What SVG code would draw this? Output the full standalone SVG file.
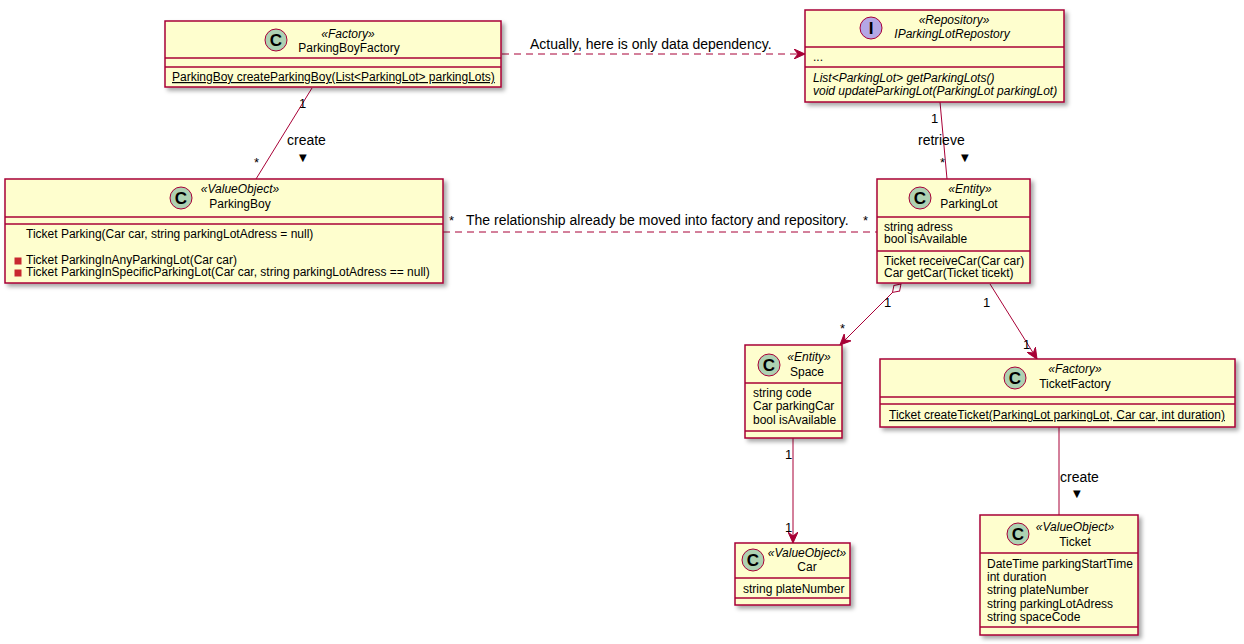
<svg xmlns="http://www.w3.org/2000/svg" width="1244" height="644" viewBox="0 0 1244 644">
  <style>
    .box { fill: #FEFECE; stroke: #A80036; stroke-width: 1.5; filter: url(#shadow); }
    .sep { stroke: #A80036; stroke-width: 1.5; }
    .cls { fill: #ADD1B2; stroke: #A80036; stroke-width: 1; }
    .ifc { fill: #B4A7E5; stroke: #A80036; stroke-width: 1; }
    .glyph { font-family: "Liberation Sans", Arial, sans-serif; font-size: 17px; font-weight: bold; fill: #000; text-anchor: middle; }
    .stereo { font-family: "Liberation Sans", Arial, sans-serif; font-size: 12px; font-style: italic; fill: #000; text-anchor: middle; }
    .name { font-family: "Liberation Sans", Arial, sans-serif; font-size: 12px; fill: #000; text-anchor: middle; }
    .mem { font-family: "Liberation Sans", Arial, sans-serif; font-size: 12px; fill: #000; }
    .ul { text-decoration: underline; }
    .it { font-style: italic; }
    .priv { fill: #C82930; stroke: #C82930; stroke-width: 1; }
    .edge { stroke: #A80036; stroke-width: 1; fill: none; }
    .dash { stroke-dasharray: 7 5; }
    .lbl { font-family: "Liberation Sans", Arial, sans-serif; font-size: 14px; fill: #000; }
    .tri { font-family: "DejaVu Sans", sans-serif; font-size: 10px; fill: #000; }
    .card { font-family: "Liberation Sans", Arial, sans-serif; font-size: 13px; fill: #000; }
  </style>
  <defs>
    <filter id="shadow" x="-10%" y="-10%" width="130%" height="140%">
      <feDropShadow dx="3" dy="3" stdDeviation="2" flood-color="#000" flood-opacity="0.35"/>
    </filter>
    <marker id="arrow" viewBox="0 0 12 10" refX="11" refY="5" markerWidth="12" markerHeight="10" markerUnits="userSpaceOnUse" orient="auto">
      <path d="M0,0 L11,5 L0,10 L4,5 Z" fill="#A80036" stroke="#A80036" stroke-width="1" stroke-dasharray="none"/>
    </marker>
    <marker id="diamond" viewBox="0 0 14 10" refX="1" refY="5" markerWidth="14" markerHeight="10" markerUnits="userSpaceOnUse" orient="auto">
      <path d="M1,5 L7,1 L13,5 L7,9 Z" fill="#FFFFFF" stroke="#A80036" stroke-width="1"/>
    </marker>
  </defs>

  <!-- connectors -->
  <g id="connectors">
    <!-- factory to repository: data dependency -->
    <line class="edge dash" x1="502" y1="54" x2="805" y2="54" marker-end="url(#arrow)"/>
    <text class="lbl" x="530" y="49">Actually, here is only data dependency.</text>

    <!-- factory creates parking boy -->
    <line class="edge" x1="312" y1="88" x2="256" y2="179"/>
    <text class="card" x="299" y="108">1</text>
    <text class="card" x="254" y="167">*</text>
    <text class="lbl" x="287" y="145">create</text>
    <text class="tri" x="299" y="161">▼</text>

    <!-- repository retrieves parking lot -->
    <line class="edge" x1="940" y1="102" x2="947" y2="179"/>
    <text class="card" x="931" y="123">1</text>
    <text class="card" x="940" y="167">*</text>
    <text class="lbl" x="918" y="145">retrieve</text>
    <text class="tri" x="961" y="161">▼</text>

    <!-- parking boy to parking lot -->
    <line class="edge dash" x1="443" y1="232" x2="877" y2="232"/>
    <text class="card" x="449" y="225">*</text>
    <text class="card" x="863" y="225">*</text>
    <text class="lbl" x="466" y="225">The relationship already be moved into factory and repository.</text>

    <!-- parking lot aggregates spaces -->
    <line class="edge" x1="901" y1="284" x2="840" y2="345" marker-start="url(#diamond)" marker-end="url(#arrow)"/>
    <text class="card" x="884" y="307">1</text>
    <text class="card" x="840" y="333">*</text>

    <!-- parking lot to ticket factory -->
    <line class="edge" x1="990" y1="284" x2="1037" y2="359" marker-end="url(#arrow)"/>
    <text class="card" x="983" y="307">1</text>
    <text class="card" x="1023" y="349">1</text>

    <!-- space to car -->
    <line class="edge" x1="793" y1="438" x2="793" y2="543" marker-end="url(#arrow)"/>
    <text class="card" x="785" y="459">1</text>
    <text class="card" x="785" y="532">1</text>

    <!-- ticket factory creates ticket -->
    <line class="edge" x1="1059" y1="427" x2="1059" y2="515"/>
    <text class="lbl" x="1060" y="482">create</text>
    <text class="tri" x="1073" y="497">▼</text>
  </g>

  <!-- ParkingBoyFactory -->
  <g id="ParkingBoyFactory">
    <rect class="box" x="165" y="21" width="336" height="66"/>
    <line class="sep" x1="165" y1="58" x2="501" y2="58"/>
    <line class="sep" x1="165" y1="67" x2="501" y2="67"/>
    <circle class="cls" cx="276" cy="40" r="11"/>
    <text class="glyph" x="276" y="46">C</text>
    <text class="stereo" x="348" y="38">«Factory»</text>
    <text class="name" x="349" y="52">ParkingBoyFactory</text>
    <text class="mem ul" x="172" y="81">ParkingBoy createParkingBoy(List&lt;ParkingLot&gt; parkingLots)</text>
  </g>

  <!-- IParkingLotRepostory -->
  <g id="IParkingLotRepostory">
    <rect class="box" x="805" y="10" width="259" height="92"/>
    <line class="sep" x1="805" y1="47" x2="1064" y2="47"/>
    <line class="sep" x1="805" y1="67" x2="1064" y2="67"/>
    <circle class="ifc" cx="871" cy="28" r="11"/>
    <text class="glyph" x="871" y="34">I</text>
    <text class="stereo" x="954" y="24">«Repository»</text>
    <text class="name it" x="952" y="38">IParkingLotRepostory</text>
    <text class="mem" x="813" y="61">...</text>
    <text class="mem it" x="813" y="82">List&lt;ParkingLot&gt; getParkingLots()</text>
    <text class="mem it" x="813" y="95">void updateParkingLot(ParkingLot parkingLot)</text>
  </g>

  <!-- ParkingBoy -->
  <g id="ParkingBoy">
    <rect class="box" x="5" y="179" width="438" height="104"/>
    <line class="sep" x1="5" y1="217" x2="443" y2="217"/>
    <line class="sep" x1="5" y1="224" x2="443" y2="224"/>
    <circle class="cls" cx="181" cy="198" r="11"/>
    <text class="glyph" x="181" y="204">C</text>
    <text class="stereo" x="240" y="193">«ValueObject»</text>
    <text class="name" x="240" y="208">ParkingBoy</text>
    <text class="mem" x="26" y="238">Ticket Parking(Car car, string parkingLotAdress = null)</text>
    <rect class="priv" x="15" y="258" width="6" height="6"/>
    <text class="mem" x="26" y="264">Ticket ParkingInAnyParkingLot(Car car)</text>
    <rect class="priv" x="15" y="270" width="6" height="6"/>
    <text class="mem" x="26" y="276">Ticket ParkingInSpecificParkingLot(Car car, string parkingLotAdress == null)</text>
  </g>

  <!-- ParkingLot -->
  <g id="ParkingLot">
    <rect class="box" x="877" y="179" width="153" height="104"/>
    <line class="sep" x1="877" y1="217" x2="1030" y2="217"/>
    <line class="sep" x1="877" y1="251" x2="1030" y2="251"/>
    <circle class="cls" cx="920" cy="198" r="11"/>
    <text class="glyph" x="920" y="204">C</text>
    <text class="stereo" x="970" y="193">«Entity»</text>
    <text class="name" x="969" y="208">ParkingLot</text>
    <text class="mem" x="884" y="231">string adress</text>
    <text class="mem" x="884" y="243">bool isAvailable</text>
    <text class="mem" x="884" y="265">Ticket receiveCar(Car car)</text>
    <text class="mem" x="884" y="277">Car getCar(Ticket ticekt)</text>
  </g>

  <!-- Space -->
  <g id="Space">
    <rect class="box" x="745" y="345" width="97" height="93"/>
    <line class="sep" x1="745" y1="383" x2="842" y2="383"/>
    <line class="sep" x1="745" y1="431" x2="842" y2="431"/>
    <circle class="cls" cx="769" cy="365" r="11"/>
    <text class="glyph" x="769" y="371">C</text>
    <text class="stereo" x="809" y="361">«Entity»</text>
    <text class="name" x="807" y="376">Space</text>
    <text class="mem" x="753" y="397">string code</text>
    <text class="mem" x="753" y="410">Car parkingCar</text>
    <text class="mem" x="753" y="424">bool isAvailable</text>
  </g>

  <!-- TicketFactory -->
  <g id="TicketFactory">
    <rect class="box" x="880" y="359" width="355" height="68"/>
    <line class="sep" x1="880" y1="397" x2="1235" y2="397"/>
    <line class="sep" x1="880" y1="404" x2="1235" y2="404"/>
    <circle class="cls" cx="1015" cy="378" r="11"/>
    <text class="glyph" x="1015" y="384">C</text>
    <text class="stereo" x="1075" y="373">«Factory»</text>
    <text class="name" x="1075" y="388">TicketFactory</text>
    <text class="mem ul" x="889" y="419">Ticket createTicket(ParkingLot parkingLot, Car car, int duration)</text>
  </g>

  <!-- Car -->
  <g id="Car">
    <rect class="box" x="735" y="543" width="115" height="62"/>
    <line class="sep" x1="735" y1="578" x2="850" y2="578"/>
    <line class="sep" x1="735" y1="598" x2="850" y2="598"/>
    <circle class="cls" cx="753" cy="560" r="11"/>
    <text class="glyph" x="753" y="566">C</text>
    <text class="stereo" x="807" y="557">«ValueObject»</text>
    <text class="name" x="807" y="571">Car</text>
    <text class="mem" x="743" y="593">string plateNumber</text>
  </g>

  <!-- Ticket -->
  <g id="Ticket">
    <rect class="box" x="980" y="515" width="158" height="120"/>
    <line class="sep" x1="980" y1="553" x2="1138" y2="553"/>
    <line class="sep" x1="980" y1="627" x2="1138" y2="627"/>
    <circle class="cls" cx="1018" cy="534" r="11"/>
    <text class="glyph" x="1018" y="540">C</text>
    <text class="stereo" x="1075" y="531">«ValueObject»</text>
    <text class="name" x="1075" y="546">Ticket</text>
    <text class="mem" x="987" y="568">DateTime parkingStartTime</text>
    <text class="mem" x="987" y="581">int duration</text>
    <text class="mem" x="987" y="594">string plateNumber</text>
    <text class="mem" x="987" y="608">string parkingLotAdress</text>
    <text class="mem" x="987" y="621">string spaceCode</text>
  </g>
</svg>
